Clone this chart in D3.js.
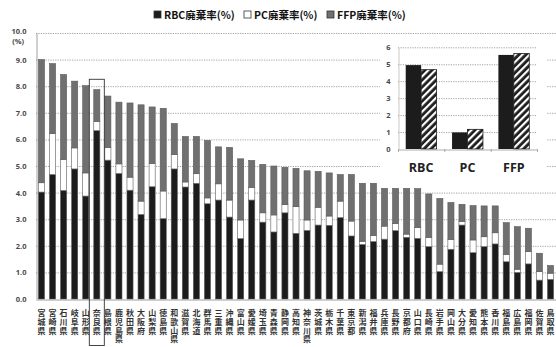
<!DOCTYPE html>
<html>
<head>
<meta charset="utf-8">
<script src="https://cdn.jsdelivr.net/npm/d3@7"></script>
<style>
  html, body { margin: 0; padding: 0; background: #fff; }
  svg { display: block; }
</style>
</head>
<body>
<svg id="chart" width="556" height="347"></svg>
<script>
// Prefectures in descending order of total discard rate
const prefectures = ["宮城県","宮崎県","石川県","岐阜県","山形県","奈良県","島根県","鹿児島県","秋田県","大阪府","山梨県","徳島県","和歌山県","滋賀県","北海道","群馬県","三重県","沖縄県","富山県","愛媛県","埼玉県","青森県","静岡県","高知県","神奈川県","茨城県","栃木県","千葉県","東京都","新潟県","福井県","兵庫県","長野県","京都府","山口県","長崎県","岩手県","岡山県","大分県","愛知県","熊本県","香川県","福島県","広島県","福岡県","佐賀県","鳥取県"];

// Discard rates (%) per blood product
const rbcRate = [4.02,4.68,4.08,4.89,3.87,6.33,5.22,4.72,4.09,3.18,4.22,3.02,4.89,4.21,4.35,3.58,3.72,3.08,2.27,3.72,2.89,2.52,3.24,2.47,2.58,2.78,2.77,3.06,2.37,2.05,2.16,2.25,2.57,2.32,2.28,1.97,1.03,1.87,2.78,1.74,1.97,2.07,1.40,1.00,1.32,0.71,0.74];
const pcRate  = [0.35,1.54,1.17,0.79,0.87,0.35,0.48,0.36,0.49,0.50,0.88,1.04,0.54,0.19,0.36,0.22,0.61,0.64,0.70,0.48,0.35,0.64,0.31,1.00,0.39,0.67,0.35,0.62,0.56,0.12,0.23,0.49,0.27,0.12,0.41,0.35,0.28,0.37,0.13,0.48,0.37,0.42,0.28,0.12,0.46,0.32,0.23];
const ffpRate = [4.63,2.63,3.19,2.51,3.28,1.19,1.93,2.32,2.79,3.62,2.12,3.11,1.17,1.71,1.40,2.16,1.39,1.98,2.30,1.01,1.82,1.84,1.40,1.44,1.85,1.35,1.62,1.00,1.75,2.18,1.96,1.42,1.32,1.72,1.46,1.63,2.47,1.39,0.65,1.29,1.16,1.01,1.19,1.60,0.88,0.69,0.29];

const yTicks = [0,1,2,3,4,5,6,7,8,9,10];
const highlighted = "奈良県";

// Inset: comparison of two series per product
const insetCategories = ["RBC","PC","FFP"];
const insetSeriesA = [4.95, 0.98, 5.55];
const insetSeriesB = [4.68, 1.16, 5.63];
const insetTicks = [0,1,2,3,4,5,6];

const legendItems = [
  { label: "RBC廃棄率(%)", key: "rbc" },
  { label: "PC廃棄率(%)",  key: "pc" },
  { label: "FFP廃棄率(%)", key: "ffp" }
];

const colors = { rbc: "#1c1c1c", pc: "#ffffff", ffp: "#707070" };

const svg = d3.select("#chart");
const W = 556, H = 347;
const M = { left: 36, right: 556, top: 33, bottom: 299 };

svg.append("rect").attr("width", W).attr("height", H).attr("fill", "#fff");

// Hatch pattern for the inset's second series
const defs = svg.append("defs");
const pat = defs.append("pattern")
  .attr("id", "hatch").attr("patternUnits", "userSpaceOnUse")
  .attr("width", 5).attr("height", 5)
  .attr("patternTransform", "rotate(45)");
pat.append("rect").attr("width", 5).attr("height", 5).attr("fill", "#1c1c1c");
pat.append("rect").attr("width", 2.2).attr("height", 5).attr("fill", "#fff");

const x = d3.scaleBand().domain(prefectures).range([M.left, M.right]).paddingInner(0.45).paddingOuter(0.22);
const y = d3.scaleLinear().domain([0, 10]).range([M.bottom, M.top]);

// Gridlines
svg.append("g").selectAll("line").data(yTicks.filter(d => d > 0)).join("line")
  .attr("x1", M.left).attr("x2", M.right)
  .attr("y1", d => y(d) + 0.5).attr("y2", d => y(d) + 0.5)
  .attr("stroke", "#8a8a8a").attr("stroke-width", 0.8)
  .attr("stroke-dasharray", "1.2,1.2");

// Y axis
const yAxis = d3.axisLeft(y).tickValues(yTicks).tickFormat(d3.format(".1f")).tickSize(0).tickPadding(10);
const gy = svg.append("g").attr("transform", `translate(${M.left + 0.5},0)`).call(yAxis);
gy.select(".domain").attr("stroke", "#888").attr("stroke-width", 0.8);
gy.selectAll("text").attr("font-family", "'Open Sans', sans-serif").attr("font-size", 7.5)
  .attr("font-weight", 700).attr("fill", "#4a4a4a");
gy.selectAll(".tick").filter(d => d === 10).select("text").attr("dy", "0.1em");
svg.append("text").attr("x", 24).attr("y", 43.5).attr("text-anchor", "end")
  .attr("font-family", "'Open Sans', sans-serif").attr("font-size", 7.5).attr("font-weight", 700)
  .attr("fill", "#4a4a4a").text("(%)");

// Stacked bars
const rows = prefectures.map((p, i) => ({ name: p, rbc: rbcRate[i], pc: pcRate[i], ffp: ffpRate[i] }));
const stack = d3.stack().keys(["rbc", "pc", "ffp"])(rows);
svg.append("g").selectAll("g").data(stack).join("g")
  .attr("fill", d => colors[d.key])
  .selectAll("rect").data(d => d).join("rect")
  .attr("x", d => x(d.data.name))
  .attr("width", x.bandwidth())
  .attr("y", d => y(d[1]))
  .attr("height", d => y(d[0]) - y(d[1]))
  .attr("stroke", "#5a5a5a").attr("stroke-width", 0.6);

// X axis
const xAxis = d3.axisBottom(x).tickSize(0).tickFormat("");
const gx = svg.append("g").attr("transform", `translate(0,${M.bottom + 0.5})`).call(xAxis);
gx.select(".domain").attr("stroke", "#888").attr("stroke-width", 0.8);

// Vertical category labels (top-to-bottom writing)
svg.append("g")
  .attr("font-family", "'Noto Sans CJK JP', sans-serif")
  .attr("font-size", 8).attr("font-weight", 700).attr("fill", "#333")
  .selectAll("text").data(prefectures).join("text")
  .attr("writing-mode", "vertical-rl")
  .style("text-orientation", "upright")
  .style("letter-spacing", "0.8px")
  .attr("x", d => x(d) + x.bandwidth() / 2)
  .attr("y", 309)
  .text(d => d);

// Highlight frame around one prefecture
const hx = x(highlighted) + x.bandwidth() / 2;
svg.append("rect")
  .attr("x", hx - 7.5).attr("y", y(8.26))
  .attr("width", 15).attr("height", 345.5 - y(8.26))
  .attr("fill", "none").attr("stroke", "#333").attr("stroke-width", 0.9);

// Legend
const lg = svg.append("g").attr("font-family", "'Noto Sans CJK JP', sans-serif")
  .attr("font-size", 10.5).attr("font-weight", 700).attr("fill", "#111");
const legendX = [154, 244, 327];
legendItems.forEach((it, i) => {
  lg.append("rect").attr("x", legendX[i]).attr("y", 11).attr("width", 7).attr("height", 7)
    .attr("fill", colors[it.key]).attr("stroke", "#333").attr("stroke-width", 0.8);
  lg.append("text").attr("x", legendX[i] + 10).attr("y", 18.5).text(it.label);
});

// Inset chart
const inset = svg.append("g");
inset.append("rect").attr("x", 380).attr("y", 36).attr("width", 166).attr("height", 147).attr("fill", "#fff");
const ix = d3.scaleBand().domain(insetCategories).range([398, 537]);
const iy = d3.scaleLinear().domain([0, 6]).range([149, 47.3]);
const isub = d3.scaleBand().domain(["a", "b"]).range([0, ix.bandwidth()]).paddingInner(0).paddingOuter(0.5);

inset.append("g").selectAll("line").data(insetTicks.filter(d => d > 0)).join("line")
  .attr("x1", 398).attr("x2", 537)
  .attr("y1", d => iy(d) + 0.5).attr("y2", d => iy(d) + 0.5)
  .attr("stroke", "#8a8a8a").attr("stroke-width", 0.8).attr("stroke-dasharray", "1.2,1.2");

const iyAxis = d3.axisLeft(iy).tickValues(insetTicks).tickFormat(d3.format("d")).tickSize(0).tickPadding(8);
const giy = inset.append("g").attr("transform", "translate(398.5,0)").call(iyAxis);
giy.select(".domain").attr("stroke", "#bbb").attr("stroke-width", 0.8);
giy.selectAll("text").attr("font-family", "'Open Sans', sans-serif").attr("font-size", 7.5)
  .attr("font-weight", 700).attr("fill", "#4a4a4a");

const insetRows = insetCategories.map((c, i) => ({ cat: c, a: insetSeriesA[i], b: insetSeriesB[i] }));
const ig = inset.append("g").selectAll("g").data(insetRows).join("g")
  .attr("transform", d => `translate(${ix(d.cat)},0)`);
ig.append("rect").attr("x", isub("a")).attr("width", isub.bandwidth())
  .attr("y", d => iy(d.a)).attr("height", d => iy(0) - iy(d.a))
  .attr("fill", "#1c1c1c");
ig.append("rect").attr("x", isub("b")).attr("width", isub.bandwidth())
  .attr("y", d => iy(d.b)).attr("height", d => iy(0) - iy(d.b))
  .attr("fill", "url(#hatch)").attr("stroke", "#1c1c1c").attr("stroke-width", 0.8);

const ixAxis = d3.axisBottom(ix).tickSizeOuter(0).tickSize(0).tickPadding(14);
const gix = inset.append("g").attr("transform", `translate(0,${iy(0) + 0.5})`).call(ixAxis);
gix.select(".domain").attr("stroke", "#999").attr("stroke-width", 0.8);
gix.selectAll("text").attr("font-family", "'Open Sans', sans-serif").attr("font-size", 12.5)
  .attr("font-weight", 700).attr("fill", "#222");
// small separators between inset categories
inset.append("g").selectAll("line").data([398, 444.3, 490.7, 537]).join("line")
  .attr("x1", d => d + 0.5).attr("x2", d => d + 0.5)
  .attr("y1", iy(0)).attr("y2", iy(0) + 3)
  .attr("stroke", "#999").attr("stroke-width", 0.8);
</script>
</body>
</html>
